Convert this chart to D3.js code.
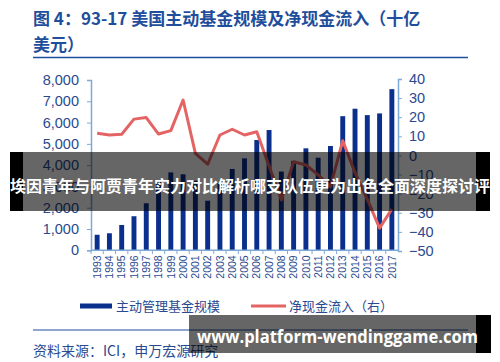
<!DOCTYPE html>
<html>
<head>
<meta charset="utf-8">
<script src="https://cdn.jsdelivr.net/npm/d3@7"></script>
<style>
  body { margin: 0; background: #fff; }
  text { font-family: "Noto Sans CJK SC", "Noto Sans", sans-serif; }
</style>
</head>
<body>
<svg width="500" height="362"></svg>
<script>
'use strict'

const years = ['1993', '1994', '1995', '1996', '1997', '1998', '1999', '2000', '2001', '2002',
    '2003', '2004', '2005', '2006', '2007', '2008', '2009', '2010', '2011', '2012',
    '2013', '2014', '2015', '2016', '2017']
const assets = [730, 800, 1190, 1600, 2210, 3220, 3660, 3570, 3270, 2330,
    3170, 3820, 4320, 5180, 5650, 3700, 4200, 4790, 4350, 4900,
    6300, 6650, 6350, 6430, 7570]
const netFlow = [11.6, 10.7, 11.1, 19, 19.8, 11.2, 13, 29, 1.1, -4.6,
    10.7, 13.7, 10.7, 12.4, -5.5, -23.3, -3.3, -5, -10.2, -16.3,
    7.7, -9, -23, -38, -28]
const leftTicks = d3.range(0, 8001, 1000)
const rightTicks = d3.range(-50, 41, 10)

const blue = '#0b2f8c'
const red = '#e46464'
const textBlue = '#2a4a8f'
const axisBlue = '#7fa9d8'

const svg = d3.select('svg')

// title
const title = svg.append('g').attr('fill', '#1f4e9c').attr('font-weight', 'bold').attr('font-size', 17)
title.append('text').attr('x', 33).attr('y', 25).text('图 4：93-17 美国主动基金规模及净现金流入（十亿')
title.append('text').attr('x', 33).attr('y', 51).text('美元）')
svg.append('line').attr('x1', 33).attr('x2', 468).attr('y1', 57.5).attr('y2', 57.5)
    .attr('stroke', '#1f4ea0').attr('stroke-width', 1.5)

const x = d3.scaleBand().domain(years).range([91, 398]).paddingInner(0.6).paddingOuter(0.3)
const yL = d3.scaleLinear().domain([0, 8000]).range([250.3, 80])
const yR = d3.scaleLinear().domain([-50, 40]).range([251, 79])

// bars
svg.append('g').selectAll('rect')
    .data(assets)
    .join('rect')
    .attr('x', (d, i) => x(years[i]))
    .attr('width', x.bandwidth())
    .attr('y', d => yL(d))
    .attr('height', d => yL(0) - yL(d))
    .attr('fill', blue)

// axes
function styleAxis(g) {
    g.selectAll('.domain').attr('stroke', axisBlue).attr('stroke-width', 1.5)
    g.selectAll('.tick line').attr('stroke', axisBlue)
    g.selectAll('.tick text').attr('fill', textBlue)
        .style('font-family', 'Liberation Sans, Arial, sans-serif')
}

svg.append('g').attr('transform', 'translate(91,0)')
    .call(d3.axisLeft(yL).tickValues(leftTicks).tickFormat(d3.format(',')).tickSize(4).tickPadding(8))
    .attr('font-size', 14.5)
    .call(styleAxis)

svg.append('g').attr('transform', 'translate(398,0)')
    .call(d3.axisRight(yR).tickValues(rightTicks).tickSize(4).tickPadding(7))
    .attr('font-size', 14.5)
    .call(styleAxis)

const xAxis = svg.append('g').attr('transform', 'translate(0,250.3)')
    .call(d3.axisBottom(x).tickSize(0).tickPadding(0))
    .attr('font-size', 10.5)
    .call(styleAxis)
xAxis.select('.domain').attr('d', 'M91,0H398')
xAxis.selectAll('.tick text')
    .attr('transform', 'rotate(-90)')
    .attr('text-anchor', 'end')
    .attr('dy', '0.35em')
    .attr('x', -5)
    .attr('y', 0)
// small ticks between bars
svg.append('g').selectAll('line')
    .data(years)
    .join('line')
    .attr('x1', d => x(d) - x.step() * 0.3)
    .attr('x2', d => x(d) - x.step() * 0.3)
    .attr('y1', 250.3).attr('y2', 254)
    .attr('stroke', axisBlue)

// net flow line
const line = d3.line()
    .x((d, i) => x(years[i]) + x.bandwidth() / 2)
    .y(d => yR(d))
svg.append('path').datum(netFlow)
    .attr('d', line)
    .attr('fill', 'none')
    .attr('stroke', red)
    .attr('stroke-width', 3)
    .attr('stroke-linejoin', 'round')

// legend
const legend = svg.append('g').attr('font-size', 13).attr('fill', textBlue)
legend.append('rect').attr('x', 80).attr('y', 303.5).attr('width', 32).attr('height', 5).attr('fill', blue)
legend.append('text').attr('x', 116).attr('y', 311).text('主动管理基金规模')
legend.append('line').attr('x1', 251).attr('x2', 286).attr('y1', 306).attr('y2', 306)
    .attr('stroke', red).attr('stroke-width', 3)
legend.append('text').attr('x', 289).attr('y', 311).text('净现金流入（右）')

// source
svg.append('line').attr('x1', 33).attr('x2', 468).attr('y1', 330).attr('y2', 330)
    .attr('stroke', '#1f4ea0').attr('stroke-width', 1)
svg.append('text').attr('x', 33).attr('y', 356).attr('font-size', 14).attr('fill', textBlue)
    .text('资料来源：ICI，申万宏源研究')

// overlay banners
const banner = svg.append('g')
banner.append('rect').attr('x', 10).attr('y', 152).attr('width', 480).attr('height', 59).attr('fill', 'rgba(0,0,0,0.6)')
banner.append('rect').attr('x', 10).attr('y', 152).attr('width', 13).attr('height', 59).attr('fill', '#000')
banner.append('rect').attr('x', 476).attr('y', 152).attr('width', 14).attr('height', 59).attr('fill', '#000')
banner.append('text').attr('x', 250).attr('y', 192).attr('text-anchor', 'middle')
    .attr('font-size', 16).attr('font-weight', 'bold').attr('fill', '#fff')
    .attr('textLength', 480).attr('lengthAdjust', 'spacingAndGlyphs')
    .text('埃因青年与阿贾青年实力对比解析哪支队伍更为出色全面深度探讨评')

const site = svg.append('g')
site.append('rect').attr('x', 189).attr('y', 315).attr('width', 302).attr('height', 38).attr('fill', 'rgba(0,0,0,0.6)')
site.append('rect').attr('x', 476).attr('y', 315).attr('width', 15).attr('height', 38).attr('fill', '#000')
site.append('text').attr('x', 197).attr('y', 343)
    .attr('font-size', 17).attr('font-weight', 'bold').attr('fill', '#fff')
    .attr('textLength', 281).attr('lengthAdjust', 'spacingAndGlyphs')
    .style('font-family', '"Open Sans", "Noto Sans", sans-serif')
    .text('www.platform-wendinggame.com')
</script>
</body>
</html>
